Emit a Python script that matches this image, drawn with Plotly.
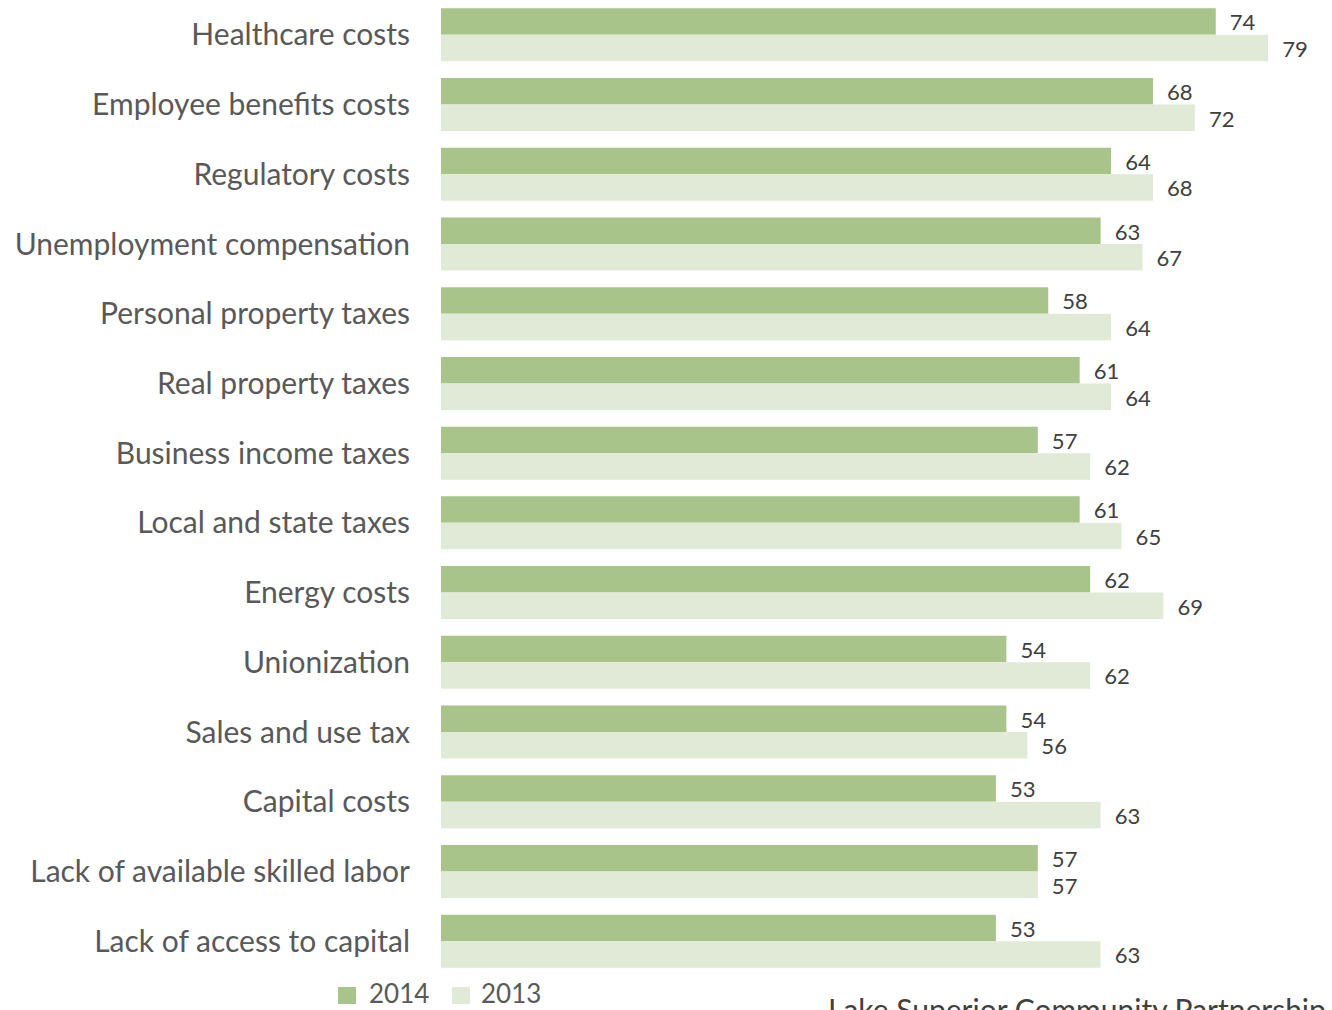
import plotly.graph_objects as go

categories = [
    "Healthcare costs",
    "Employee benefits costs",
    "Regulatory costs",
    "Unemployment compensation",
    "Personal property taxes",
    "Real property taxes",
    "Business income taxes",
    "Local and state taxes",
    "Energy costs",
    "Unionization",
    "Sales and use tax",
    "Capital costs",
    "Lack of available skilled labor",
    "Lack of access to capital",
]
values_2014 = [74, 68, 64, 63, 58, 61, 57, 61, 62, 54, 54, 53, 57, 53]
values_2013 = [79, 72, 68, 67, 64, 64, 62, 65, 69, 62, 56, 63, 57, 63]
series_names = ["2014", "2013"]

COLOR_2014 = "#A9C48A"
COLOR_2013 = "#E1EAD6"
TEXT_COLOR = "#595959"
FONT = "Lato"

W, H = 1332, 1010
L, R, T, B = 441, 0, 0, 34


def px_x(px):
    return (px - L) / (W - L - R)


def px_y(py):
    return (H - B - py) / (H - B - T)


fig = go.Figure()
for name, vals, color in [(series_names[0], values_2014, COLOR_2014),
                          (series_names[1], values_2013, COLOR_2013)]:
    fig.add_trace(go.Bar(
        name=name, y=categories, x=vals, orientation="h",
        marker=dict(color=color, line=dict(width=0)),
        text=vals, texttemplate="\u2002%{x}", textposition="outside",
        cliponaxis=False,
        textfont=dict(family=FONT, size=25, color="#404040"),
    ))

# hand-placed legend: colour squares followed by the series name
shapes = []
annotations = []
for (sx, tx), name, color in [((338, 367), series_names[0], COLOR_2014),
                              ((452, 479), series_names[1], COLOR_2013)]:
    shapes.append(dict(type="rect", xref="paper", yref="paper",
                       x0=px_x(sx), x1=px_x(sx + 18), y0=px_y(1004), y1=px_y(987),
                       fillcolor=color, line=dict(width=0)))
    annotations.append(dict(text=name, xref="paper", yref="paper",
                            x=px_x(tx), xanchor="left", y=px_y(993), yanchor="middle",
                            showarrow=False,
                            font=dict(family=FONT, size=26, color=TEXT_COLOR)))

# source line, sitting on the bottom edge of the page
annotations.append(dict(
    text="Lake Superior Community Partnership", xref="paper", yref="paper",
    x=px_x(826), xanchor="left", y=px_y(989), yanchor="top", showarrow=False,
    font=dict(family=FONT, size=30, color="#404040"),
))

fig.update_layout(
    width=W, height=H,
    barmode="group", bargap=0.24, bargroupgap=0,
    plot_bgcolor="white", paper_bgcolor="white",
    showlegend=False,
    margin=dict(l=L, r=R, t=T, b=B),
    font=dict(family=FONT, color=TEXT_COLOR),
    xaxis=dict(range=[0, 85.1], visible=False, showgrid=False),
    yaxis=dict(autorange="reversed", showgrid=False, showline=False,
               ticks="", ticklabelstandoff=30,
               tickfont=dict(family=FONT, size=30, color=TEXT_COLOR)),
    shapes=shapes,
    annotations=annotations,
)

fig.write_html("out.html")
